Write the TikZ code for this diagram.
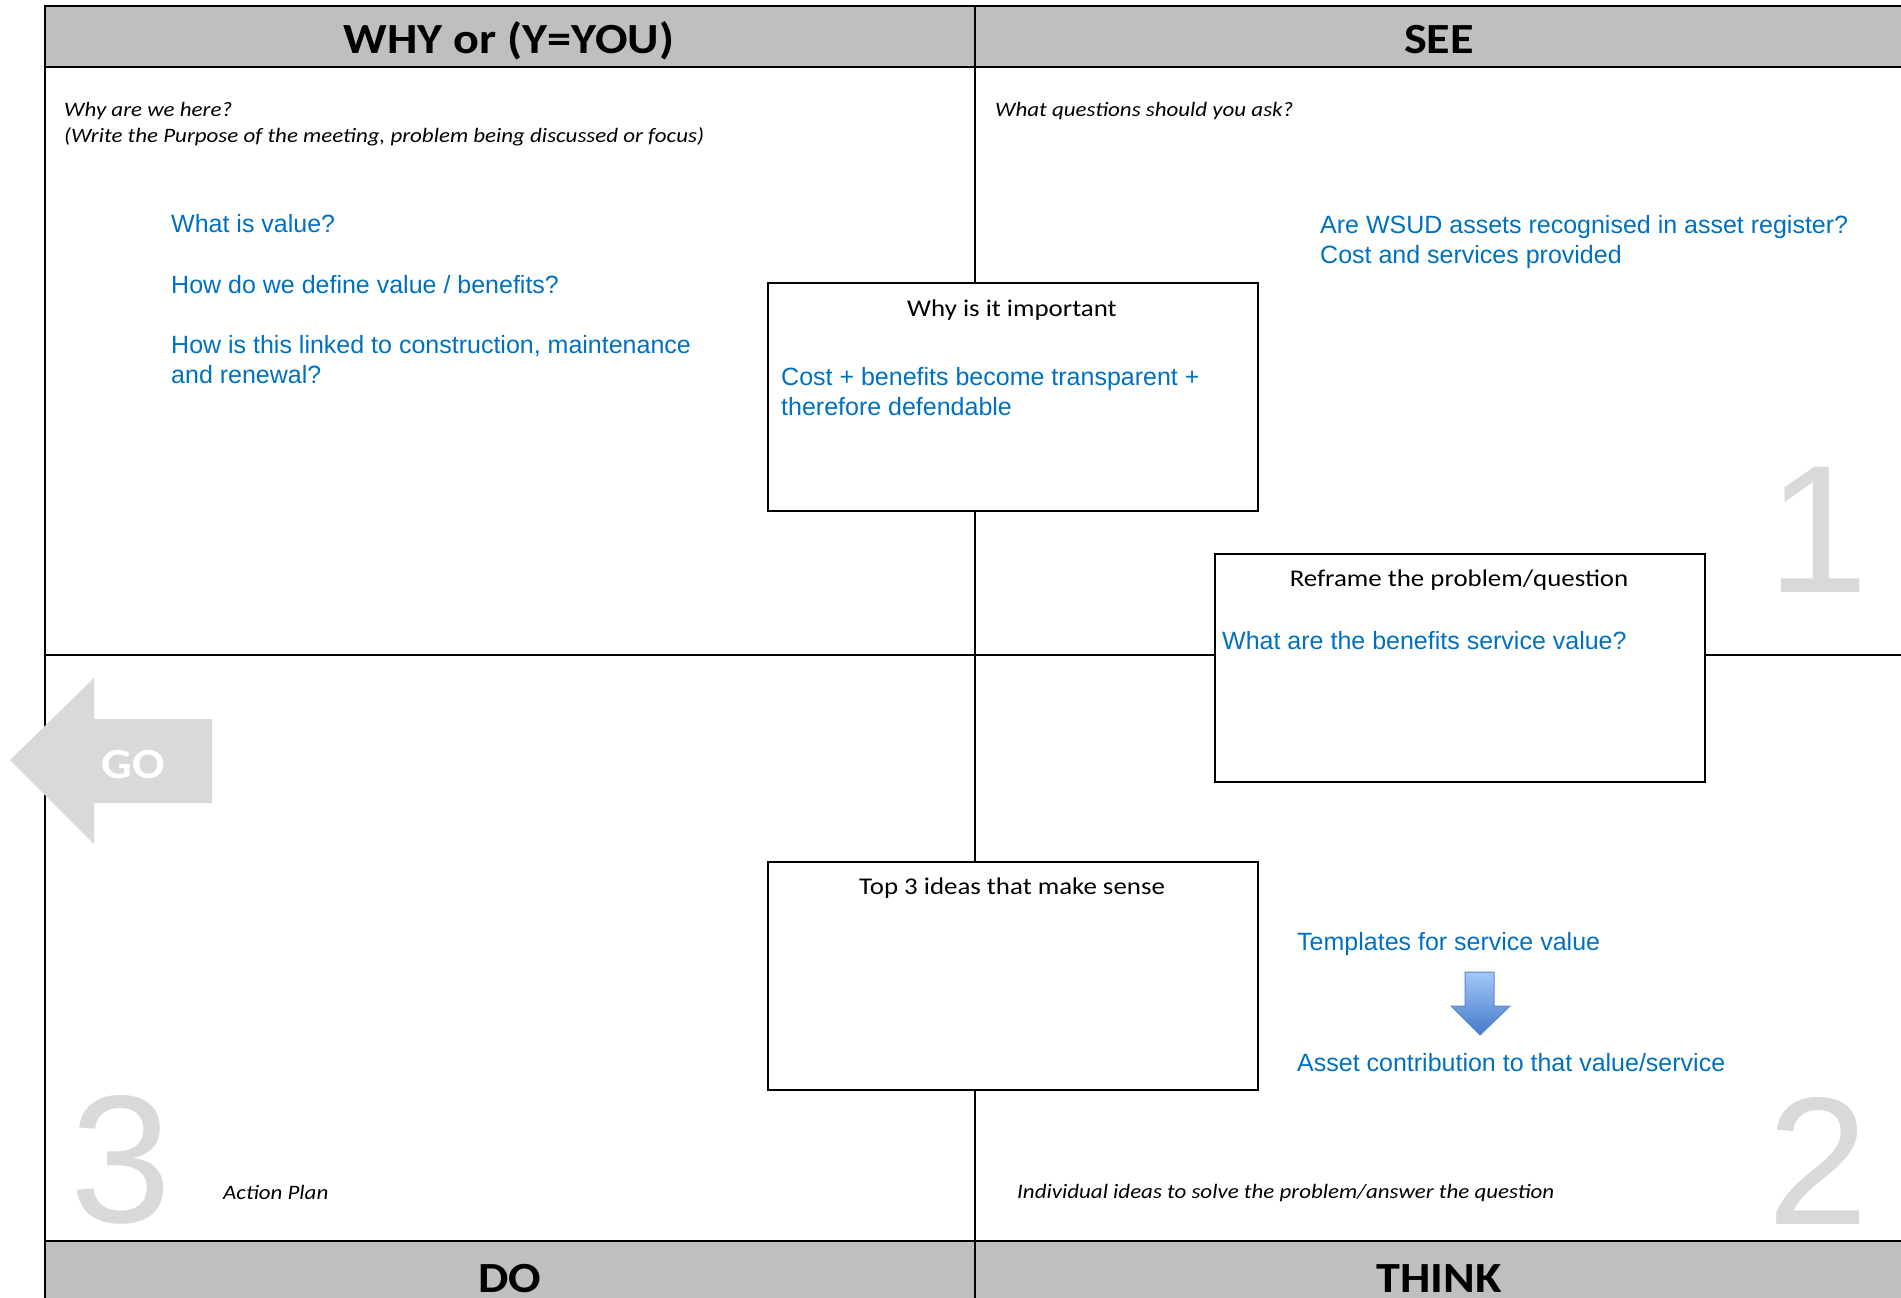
\documentclass[tikz,border=0pt]{standalone}
\usepackage{fontspec}
\setmainfont{Carlito}[FakeStretch=1.12]
\newfontfamily\arialf{Liberation Sans}
\definecolor{hdr}{HTML}{BFBFBF}
\definecolor{blu}{HTML}{0070C0}
\definecolor{lgray}{HTML}{D9D9D9}
\definecolor{arrtop}{HTML}{A3C8FA}
\definecolor{arrbot}{HTML}{4479C6}
\definecolor{arredge}{HTML}{5A88CC}
\begin{document}
\begin{tikzpicture}[x=1pt,y=-1pt,
  gridline/.style={line width=2pt,black},
  hdrtext/.style={inner sep=0pt,anchor=base,font=\fontsize{43}{50}\selectfont\bfseries},
  note/.style={inner sep=0pt,anchor=base west,align=left,font=\fontsize{20.5}{26}\selectfont\itshape},
  bluetext/.style={inner sep=0pt,anchor=base west,align=left,text=blu,font=\arialf\fontsize{25}{30}\selectfont},
  ideabox/.style={draw=black,line width=1.5pt,fill=white,anchor=north west,minimum width=490pt,minimum height=228pt,inner sep=0pt},
  boxtitle/.style={inner sep=0pt,anchor=base,font=\fontsize{24}{28}\selectfont},
  bignum/.style={inner sep=0pt,anchor=base,text=lgray,font=\arialf\fontsize{182}{182}\selectfont},
]
\useasboundingbox (0,0) rectangle (1901,1298);
% header bands
\fill[hdr] (45,6) rectangle (1910,67);
\fill[hdr] (45,1241) rectangle (1910,1310);
% grid
\draw[gridline] (1910,6) -- (45,6) -- (45,1310);
\draw[gridline] (45,67) -- (1910,67);
\draw[gridline] (45,1241) -- (1910,1241);
\draw[gridline] (45,655) -- (1910,655);
\draw[gridline] (975,6) -- (975,1310);
% headers
\node[hdrtext] (hwhy) at (509,54) {WHY or (Y=YOU)};
\node[hdrtext] (hsee) at (1439,54) {SEE};
\node[hdrtext] (hdo) at (510,1292) {DO};
\node[hdrtext] (hthink) at (1439,1292) {THINK};
% boxes
\node[ideabox] (why) at (767,282) {};
\node[ideabox] (reframe) at (1214,553) {};
\node[ideabox] (top3) at (767,861) {};
\node[boxtitle] (whyt) at (1012,316) {Why is it important};
\node[boxtitle] (reframet) at (1459,586) {Reframe the problem/question};
\node[boxtitle] (top3t) at (1012,894) {Top 3 ideas that make sense};
% notes
\node[note] (n1) at (64,142) {Why are we here?\\(Write the Purpose of the meeting, problem being discussed or focus)};
\node[note] (n2) at (995,116) {What questions should you ask?};
\node[note] (n3) at (223,1199) {Action Plan};
\node[note] (n4) at (1017,1198) {Individual ideas to solve the problem/answer the question};
% blue texts
\node[bluetext] (b1) at (171,232) {What is value?};
\node[bluetext] (b2) at (171,293) {How do we define value / benefits?};
\node[bluetext] (b3) at (171,383) {How is this linked to construction, maintenance\\and renewal?};
\node[bluetext] (b4) at (781,415) {Cost + benefits become transparent +\\therefore defendable};
\node[bluetext] (b5) at (1320,263) {Are WSUD assets recognised in asset register?\\Cost and services provided};
\node[bluetext] (b6) at (1222,649) {What are the benefits service value?};
\node[bluetext] (b7) at (1297,950) {Templates for service value};
\node[bluetext] (b8) at (1297,1071) {Asset contribution to that value/service};
% big numbers
\node[bignum] (num1) at (1818,592) {1};
\node[bignum] (num2) at (1818,1224) {2};
\node[bignum] (num3) at (121,1222) {3};
% GO arrow
\fill[lgray] (10,760) -- (94,678) -- (94,719) -- (212,719) -- (212,803) -- (94,803) -- (94,844) -- cycle;
\node[inner sep=0pt,text=white,font=\fontsize{43}{50}\selectfont\bfseries] (go) at (133,765) {GO};
% blue down arrow
\shade[top color=arrtop,bottom color=arrbot,draw=arredge,line width=1pt]
  (1465,972) -- (1494,972) -- (1494,1006) -- (1510,1006) -- (1480,1035) -- (1451,1006) -- (1465,1006) -- cycle;
\end{tikzpicture}
\end{document}
